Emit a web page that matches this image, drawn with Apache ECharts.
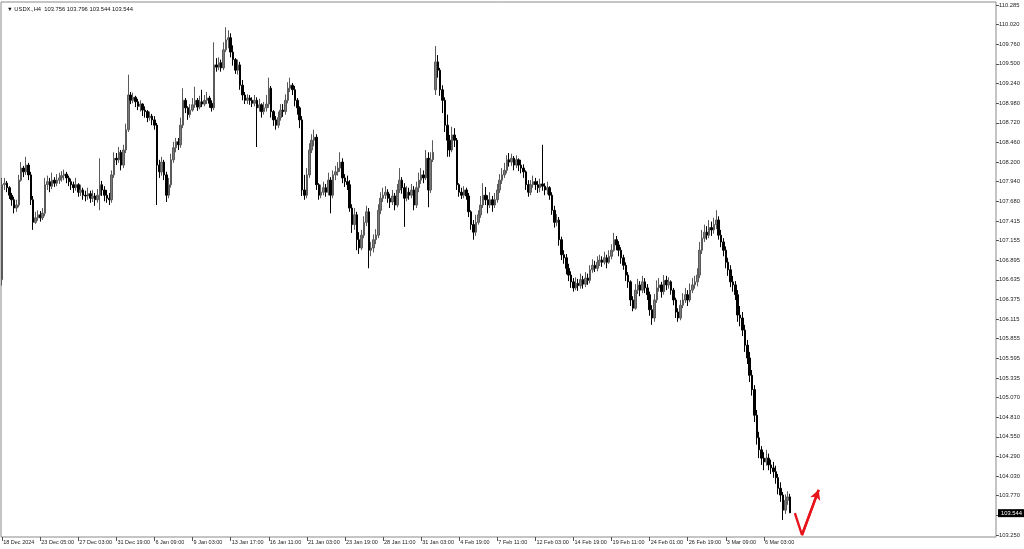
<!DOCTYPE html>
<html>
<head>
<meta charset="utf-8">
<script src="https://cdn.jsdelivr.net/npm/echarts@6/dist/echarts.min.js"></script>
<style>
html,body{margin:0;padding:0;background:#fff;}
#chart{width:1024px;height:549px;}
</style>
</head>
<body>
<div id="chart"></div>
<script>
const symbolName = 'USDX.,H4';
const firstOpen = 106.64;
const gapOpens = {182: 109.16};
const closes = [
107.90,107.92,107.86,107.76,107.70,107.59,107.63,107.96,108.12,108.07,
108.16,108.03,107.70,107.40,107.46,107.50,107.46,107.52,107.90,107.94,
107.88,107.96,107.92,107.96,107.99,108.02,108.04,107.99,107.94,107.90,
107.86,107.90,107.80,107.83,107.76,107.75,107.78,107.72,107.75,107.70,
107.76,107.90,107.83,107.76,107.72,107.70,108.03,108.25,108.23,108.33,
108.16,108.36,108.63,109.09,109.02,109.06,109.00,108.94,108.97,108.89,
108.87,108.79,108.81,108.76,108.69,108.16,108.07,108.20,108.03,107.76,
107.90,108.23,108.39,108.47,108.43,108.69,109.02,108.92,108.83,108.89,
108.96,109.02,108.93,109.00,108.97,109.02,109.05,108.98,108.92,109.49,
109.46,109.52,109.45,109.69,109.82,109.85,109.66,109.56,109.42,109.49,
109.22,109.09,109.02,109.05,109.02,108.98,109.02,108.92,108.96,108.87,
108.92,108.97,109.18,108.87,108.76,108.69,108.79,108.89,108.87,109.02,
109.18,109.22,109.16,109.02,108.92,108.76,107.83,107.76,108.03,108.36,
108.49,108.53,107.90,107.76,107.80,107.86,107.80,107.96,107.76,108.03,
108.07,108.12,108.20,107.99,107.94,107.90,107.59,107.37,107.50,107.17,
107.06,107.23,107.40,107.54,107.03,107.06,107.17,107.23,107.56,107.72,
107.76,107.80,107.72,107.67,107.75,107.63,107.83,107.96,107.86,107.72,
107.80,107.76,107.83,107.63,107.86,107.96,108.03,107.99,108.25,107.83,
108.23,108.33,109.53,109.42,109.16,109.02,108.69,108.49,108.36,108.56,
108.49,107.90,107.80,107.76,107.83,107.75,107.54,107.37,107.27,107.40,
107.50,107.63,107.76,107.70,107.63,107.70,107.63,107.70,107.83,107.96,
108.03,108.09,108.23,108.20,108.25,108.16,108.23,108.16,108.12,108.07,
107.90,107.80,107.90,107.94,107.90,107.86,107.91,107.88,107.83,107.86,
107.76,107.56,107.40,107.43,107.17,106.97,106.93,106.79,106.70,106.61,
106.53,106.59,106.56,106.64,106.58,106.66,106.63,106.77,106.83,106.79,
106.87,106.90,106.87,106.93,106.87,106.95,107.03,107.17,107.10,107.03,
106.93,106.83,106.70,106.61,106.37,106.26,106.50,106.57,106.50,106.61,
106.53,106.44,106.24,106.13,106.37,106.53,106.57,106.48,106.63,106.57,
106.61,106.50,106.37,106.21,106.13,106.30,106.37,106.44,106.37,106.50,
106.57,106.61,106.70,107.03,107.19,107.27,107.23,107.33,107.30,107.37,
107.43,107.23,107.14,107.03,106.87,106.77,106.61,106.57,106.44,106.17,
106.13,105.97,105.77,105.60,105.37,105.18,104.84,104.54,104.38,104.27,
104.22,104.27,104.18,104.14,104.09,104.01,103.87,103.78,103.58,103.71,103.756,103.544
];
const highs = [
107.99,107.99,107.95,107.88,107.79,107.74,107.70,108.03,108.20,108.15,
108.27,108.19,108.07,107.75,107.54,107.56,107.55,107.59,107.99,108.02,
107.99,108.06,108.00,108.04,108.06,108.08,108.10,108.07,108.02,107.98,
107.94,107.99,107.92,107.90,107.86,107.82,107.86,107.82,107.83,107.79,
107.84,108.25,107.95,107.88,107.83,107.79,108.09,108.33,108.32,108.40,
108.36,108.43,108.71,109.36,109.13,109.12,109.08,109.04,109.02,108.98,
108.94,108.89,108.87,108.84,108.81,108.72,108.23,108.27,108.23,108.07,
107.99,108.31,108.47,108.52,108.52,108.79,109.18,109.05,108.94,108.97,
109.05,109.20,109.05,109.08,109.16,109.09,109.13,109.08,109.02,109.79,
109.58,109.59,109.56,109.79,109.99,109.95,109.91,109.75,109.58,109.56,
109.53,109.29,109.13,109.10,109.09,109.06,109.09,109.06,109.04,108.98,
109.00,109.09,109.32,109.21,108.89,108.81,108.87,108.97,108.97,109.10,
109.26,109.32,109.25,109.21,109.05,108.94,108.81,108.03,108.12,108.45,
108.57,108.63,108.57,107.92,107.90,107.94,107.91,108.06,108.00,108.09,
108.15,108.20,108.33,108.25,108.04,108.02,107.96,107.64,107.59,107.54,
107.27,107.30,107.48,107.62,107.59,107.14,107.24,107.31,107.64,107.80,
107.86,107.88,107.84,107.78,107.83,107.79,107.91,108.12,108.00,107.92,
107.88,107.86,107.91,107.88,107.94,108.06,108.12,108.09,108.36,108.33,
108.33,108.49,109.74,109.62,109.45,109.22,109.06,108.83,108.56,108.67,
108.65,108.52,107.92,107.86,107.88,107.86,107.79,107.56,107.43,107.50,
107.56,107.75,107.92,107.87,107.76,107.80,107.75,107.79,107.91,108.04,
108.12,108.19,108.29,108.32,108.31,108.28,108.29,108.25,108.23,108.17,
108.09,107.96,107.96,108.02,107.99,107.95,107.98,108.43,107.92,107.94,
107.88,107.80,107.62,107.51,107.47,107.21,107.03,106.98,106.85,106.75,
106.66,106.67,106.65,106.72,106.69,106.74,106.72,106.83,106.91,106.89,
106.95,106.97,106.95,107.01,106.97,107.03,107.11,107.26,107.22,107.15,
107.07,106.97,106.87,106.74,106.63,106.42,106.58,106.65,106.62,106.69,
106.66,106.58,106.48,106.30,106.45,106.63,106.66,106.61,106.70,106.69,
106.67,106.63,106.53,106.40,106.26,106.37,106.46,106.53,106.50,106.59,
106.66,106.69,106.79,107.14,107.30,107.37,107.35,107.43,107.41,107.46,
107.56,107.48,107.30,107.19,107.08,106.93,106.83,106.69,106.62,106.50,
106.29,106.21,106.04,105.84,105.68,105.44,105.24,104.91,104.62,104.43,
104.35,104.38,104.33,104.25,104.22,104.17,104.06,103.95,103.82,103.79,103.83,103.796
];
const lows = [
106.56,107.83,107.80,107.71,107.62,107.52,107.54,107.60,107.94,108.00,
108.03,107.96,107.63,107.30,107.38,107.42,107.41,107.43,107.48,107.83,
107.80,107.84,107.87,107.88,107.91,107.94,107.96,107.92,107.88,107.83,
107.79,107.82,107.74,107.75,107.70,107.68,107.70,107.66,107.67,107.62,
107.66,107.56,107.75,107.68,107.66,107.63,107.66,107.99,108.16,108.19,
108.09,108.12,108.32,108.60,108.97,108.98,108.93,108.89,108.87,108.81,
108.79,108.73,108.75,108.69,108.63,107.63,107.99,108.02,107.96,107.67,
107.72,107.86,108.19,108.33,108.36,108.39,108.65,108.85,108.76,108.79,
108.87,108.92,108.88,108.90,108.93,108.94,108.97,108.92,108.87,108.89,
109.40,109.42,109.40,109.42,109.66,109.71,109.59,109.48,109.37,109.36,
109.16,109.02,108.97,108.97,108.96,108.93,108.94,108.40,108.87,108.79,
108.83,108.87,108.92,108.79,108.68,108.63,108.65,108.75,108.80,108.83,
108.98,109.13,109.09,108.94,108.83,108.65,107.75,107.70,107.72,107.99,
108.32,108.41,107.83,107.70,107.72,107.76,107.74,107.76,107.52,107.72,
107.96,108.02,108.07,107.92,107.87,107.83,107.54,107.26,107.30,107.03,
106.98,107.03,107.19,107.35,106.79,106.95,107.00,107.11,107.19,107.51,
107.67,107.71,107.66,107.59,107.63,107.56,107.60,107.79,107.78,107.34,
107.68,107.70,107.72,107.56,107.59,107.80,107.91,107.92,107.96,107.60,
107.79,108.20,109.09,109.32,109.08,108.85,108.60,108.27,108.27,108.33,
108.40,107.83,107.74,107.71,107.72,107.70,107.47,107.30,107.17,107.22,
107.37,107.46,107.59,107.63,107.52,107.59,107.54,107.59,107.66,107.79,
107.91,107.99,108.05,108.14,108.15,108.09,108.12,108.08,108.05,107.99,
107.83,107.74,107.76,107.86,107.83,107.79,107.80,107.82,107.76,107.77,
107.70,107.50,107.33,107.35,107.09,106.90,106.85,106.71,106.62,106.53,
106.48,106.50,106.49,106.52,106.52,106.54,106.57,106.59,106.73,106.74,
106.75,106.82,106.81,106.84,106.79,106.85,106.91,107.01,107.03,106.95,
106.85,106.77,106.62,106.53,106.29,106.22,106.24,106.45,106.42,106.46,
106.46,106.37,106.16,106.04,106.08,106.33,106.48,106.40,106.44,106.50,
106.52,106.44,106.30,106.13,106.08,106.10,106.26,106.33,106.29,106.34,
106.46,106.52,106.55,106.66,106.98,107.14,107.17,107.19,107.22,107.25,
107.31,107.17,107.07,106.95,106.79,106.69,106.54,106.48,106.37,106.08,
106.02,105.89,105.68,105.52,105.28,105.10,104.75,104.45,104.27,104.18,
104.11,104.17,104.11,104.06,104.01,103.93,103.79,103.69,103.45,103.53,103.65,103.544
];
const timeLabels = ['18 Dec 2024','23 Dec 05:00','27 Dec 03:00','31 Dec 19:00','6 Jan 09:00','9 Jan 03:00','13 Jan 17:00','16 Jan 11:00','21 Jan 03:00','23 Jan 19:00','28 Jan 11:00','31 Jan 03:00','4 Feb 19:00','7 Feb 11:00','12 Feb 03:00','14 Feb 19:00','19 Feb 11:00','24 Feb 01:00','26 Feb 19:00','3 Mar 09:00','6 Mar 03:00'];
const priceLabels = ['103.250','','103.770','104.030','104.290','104.550','104.810','105.070','105.335','105.595','105.855','106.115','106.375','106.635','106.895','107.155','107.415','107.680','107.940','108.200','108.460','108.720','108.980','109.240','109.500','109.760','110.020','110.285'];
const arrowPts = [[333,103.54],[336,103.25],[343,103.85]];
const labelStep = 16;
const totalSlots = 418;

const ohlc = closes.map((c, i) => {
  const o = i === 0 ? firstOpen : (gapOpens[i] !== undefined ? gapOpens[i] : closes[i - 1]);
  return [o, c, lows[i], highs[i]];
});
const cats = Array.from({length: totalSlots}, (_, i) => 'b' + i);
const last = ohlc[ohlc.length - 1];
const titleText = '\u25BC ' + symbolName + '  ' + last[0].toFixed(3) + ' ' + last[3].toFixed(3) + ' ' + last[2].toFixed(3) + ' ' + last[1].toFixed(3);
const showIdx = (idx) => idx % labelStep === 0 && (idx / labelStep) < timeLabels.length;
const FONT = 'Liberation Sans, Arial, sans-serif';

const chart = echarts.init(document.getElementById('chart'), null, {renderer: 'canvas'});
chart.setOption({
  animation: false,
  backgroundColor: '#ffffff',
  title: {
    text: titleText, left: 2, top: 1,
    textStyle: {fontSize: 5.8, fontWeight: 'normal', color: '#111', fontFamily: FONT}
  },
  grid: [
    {left: 1, right: 28, top: 2, bottom: 12, show: true, borderColor: '#8a8a8a', borderWidth: 1, backgroundColor: '#fff'},
    {left: 1, right: 28, top: 5, bottom: 14}
  ],
  xAxis: [
    {
      gridIndex: 0, type: 'category', data: cats, boundaryGap: true,
      axisLine: {show: false},
      axisTick: {show: true, alignWithLabel: true, interval: (idx) => showIdx(idx), length: 4, lineStyle: {color: '#555'}},
      axisLabel: {
        interval: (idx) => showIdx(idx),
        formatter: (v, idx) => showIdx(idx) ? timeLabels[idx / labelStep] : '',
        fontSize: 5.5, color: '#222', fontFamily: FONT, align: 'left', margin: 2, padding: [0, 0, 0, 1]
      },
      splitLine: {show: false}
    },
    {
      gridIndex: 1, type: 'category', data: cats, boundaryGap: true, show: false
    }
  ],
  yAxis: [
    {gridIndex: 0, type: 'value', min: 0, max: 1, show: false},
    {gridIndex: 1, type: 'value', min: 103.25, max: 110.285, show: false, position: 'left', splitLine: {show: false}},
    {
      gridIndex: 1, type: 'category', data: priceLabels, boundaryGap: false, position: 'right',
      axisLine: {show: false},
      axisTick: {show: true, interval: 0, length: 3, lineStyle: {color: '#555'}},
      axisLabel: {interval: 0, fontSize: 5.8, color: '#222', fontFamily: FONT, margin: 3},
      splitLine: {show: false}
    }
  ],
  series: [
    {
      type: 'candlestick', xAxisIndex: 1, yAxisIndex: 1,
      data: ohlc, barWidth: 2,
      itemStyle: {color: '#7a7a7a', color0: '#000000', borderColor: '#5a5a5a', borderColor0: '#000000', borderWidth: 1},
      markLine: {
        silent: true, symbol: 'none',
        lineStyle: {color: 'rgba(0,0,0,0)', width: 0},
        label: {
          show: true, position: 'end', distance: 2,
          formatter: () => last[1].toFixed(3),
          backgroundColor: '#000', color: '#fff', fontSize: 5.8, fontFamily: FONT, padding: [1, 3, 1, 3]
        },
        emphasis: {disabled: true},
        data: [{yAxis: last[1]}]
      }
    },
    {
      type: 'line', xAxisIndex: 1, yAxisIndex: 1,
      data: arrowPts, symbol: 'none', clip: false,
      lineStyle: {color: '#e8141c', width: 2.4},
      markLine: {
        silent: true, symbol: ['none', 'arrow'], symbolSize: [8, 10],
        lineStyle: {color: '#e8141c', width: 2.4, type: 'solid'},
        label: {show: false},
        data: [[{coord: arrowPts[1]}, {coord: arrowPts[2]}]]
      }
    }
  ]
});
</script>
</body>
</html>
